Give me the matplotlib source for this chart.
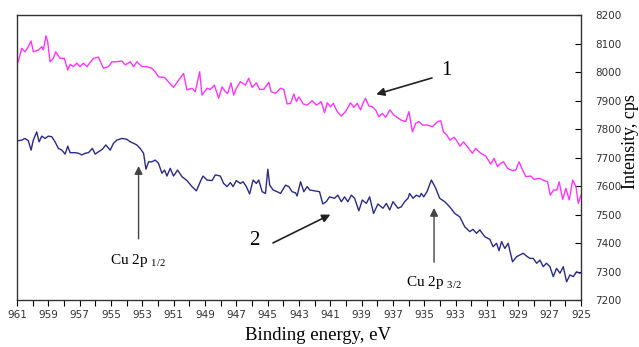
import numpy as np
import matplotlib.pyplot as plt

plt.rcParams['mathtext.fontset'] = 'custom'
plt.rcParams['mathtext.rm'] = 'Liberation Serif'

# curve 1 (magenta)
energy_1 = [
    960.92, 960.70, 960.49, 960.28, 960.10, 959.96, 959.64, 959.42, 959.32, 959.15,
    959.04, 958.89, 958.68, 958.53, 958.25, 957.98, 957.76, 957.61, 957.40, 957.18,
    956.97, 956.76, 956.54, 956.12, 955.80, 955.48, 955.16, 954.94, 954.63, 954.31,
    954.09, 953.77, 953.56, 953.35, 953.03, 952.71, 952.39, 952.18, 951.97, 951.58,
    951.01, 950.37, 950.15, 949.83, 949.62, 949.34, 949.19, 948.87, 948.66, 948.40,
    948.13, 947.91, 947.70, 947.55, 947.34, 947.17, 947.00, 946.74, 946.42, 946.21,
    945.99, 945.72, 945.51, 945.25, 944.93, 944.78, 944.50, 944.18, 943.97, 943.76,
    943.54, 943.33, 943.16, 943.01, 942.73, 942.48, 942.16, 941.88, 941.58, 941.37,
    941.20, 940.99, 940.81, 940.56, 940.30, 940.03, 939.71, 939.50, 939.28, 939.07,
    938.90, 938.75, 938.54, 938.32, 938.11, 937.90, 937.68, 937.47, 937.20, 936.94,
    936.51, 936.19, 935.98, 935.76, 935.55, 935.34, 935.12, 934.80, 934.48, 934.16,
    933.95, 933.78, 933.57, 933.36, 933.10, 932.93, 932.72, 932.50, 932.25, 931.93,
    931.72, 931.40, 931.08, 930.76, 930.55, 930.33, 930.12, 929.94, 929.69, 929.37,
    929.16, 928.95, 928.73, 928.52, 928.20, 927.99, 927.67, 927.35, 927.13, 926.96,
    926.75, 926.54, 926.39, 926.17, 925.96, 925.75, 925.53, 925.32, 925.17, 925.00]
intensity_1 = [
    8036, 8083, 8071, 8089, 8109, 8071, 8077, 8089, 8077, 8127,
    8106, 8036, 8048, 8071, 8048, 8048, 8007, 8027, 8019, 8031,
    8019, 8031, 8019, 8048, 8052, 8013, 8019, 8036, 8036, 8039,
    8025, 8036, 8019, 8036, 8019, 8019, 8013, 8001, 7983, 7981,
    7946, 7995, 7937, 7943, 7931, 8001, 7919, 7943, 7939, 7954,
    7908, 7948, 7931, 7925, 7962, 7919, 7943, 7966, 7954, 7978,
    7946, 7962, 7939, 7939, 7964, 7931, 7925, 7943, 7939, 7888,
    7890, 7923, 7896, 7913, 7888, 7884, 7899, 7884, 7896, 7857,
    7892, 7878, 7890, 7861, 7846, 7861, 7892, 7876, 7890, 7867,
    7892, 7908, 7881, 7878, 7867, 7843, 7855, 7841, 7867, 7849,
    7832, 7826, 7861, 7790, 7820, 7826, 7814, 7814, 7808, 7826,
    7829, 7790, 7779, 7761, 7771, 7759, 7740, 7755, 7738, 7715,
    7732, 7715, 7705, 7677, 7697, 7668, 7680, 7685, 7662, 7654,
    7656, 7685, 7656, 7633, 7635, 7623, 7627, 7619, 7615, 7568,
    7586, 7586, 7615, 7553, 7592, 7551, 7621, 7598, 7539, 7568]

# curve 2 (navy)
energy_2 = [
    960.92, 960.70, 960.49, 960.28, 960.10, 959.96, 959.74, 959.59, 959.42, 959.21,
    959.00, 958.78, 958.57, 958.36, 958.14, 957.93, 957.76, 957.61, 957.29, 957.08,
    956.86, 956.65, 956.44, 956.19, 956.01, 955.80, 955.55, 955.33, 955.05, 954.84,
    954.63, 954.31, 953.99, 953.77, 953.56, 953.35, 953.14, 952.92, 952.77, 952.60,
    952.39, 952.18, 951.97, 951.75, 951.58, 951.43, 951.22, 951.01, 950.75, 950.47,
    950.15, 949.83, 949.55, 949.30, 949.13, 948.87, 948.55, 948.34, 948.02, 947.81,
    947.59, 947.38, 947.21, 947.00, 946.74, 946.57, 946.36, 946.15, 945.93, 945.72,
    945.57, 945.35, 945.14, 944.99, 944.87, 944.65, 944.39, 944.18, 943.86, 943.65,
    943.44, 943.22, 943.12, 942.90, 942.69, 942.48, 942.31, 941.69, 941.48, 941.26,
    941.05, 940.73, 940.52, 940.30, 940.09, 939.88, 939.66, 939.45, 939.18, 938.96,
    938.70, 938.49, 938.24, 937.96, 937.64, 937.42, 937.21, 937.00, 936.68, 936.47,
    936.26, 936.04, 935.94, 935.72, 935.51, 935.30, 935.19, 935.04, 934.83, 934.55,
    934.27, 934.02, 933.70, 933.38, 933.06, 932.74, 932.42, 932.10, 931.89, 931.67,
    931.46, 931.14, 930.82, 930.61, 930.39, 930.23, 930.07, 929.86, 929.65, 929.37,
    929.11, 928.90, 928.69, 928.47, 928.26, 928.05, 927.83, 927.62, 927.41, 927.20,
    926.98, 926.77, 926.56, 926.34, 926.13, 925.92, 925.70, 925.49, 925.28, 925.07]
intensity_2 = [
    7759, 7761, 7767, 7759, 7726, 7761, 7790, 7755, 7775, 7767,
    7775, 7773, 7755, 7732, 7726, 7712, 7740, 7717, 7717, 7715,
    7709, 7715, 7717, 7732, 7712, 7720, 7729, 7744, 7726, 7750,
    7761, 7767, 7764, 7755, 7750, 7744, 7732, 7715, 7659, 7685,
    7685, 7691, 7680, 7645, 7656, 7635, 7662, 7635, 7656, 7633,
    7619, 7598, 7583, 7615, 7635, 7621, 7619, 7639, 7635, 7609,
    7598, 7612, 7598, 7619, 7609, 7615, 7598, 7572, 7621, 7609,
    7621, 7580, 7574, 7659, 7603, 7586, 7580, 7574, 7603, 7598,
    7580, 7576, 7565, 7615, 7580, 7598, 7586, 7580, 7537, 7545,
    7562, 7557, 7568, 7545, 7562, 7545, 7568, 7557, 7513, 7551,
    7539, 7562, 7504, 7537, 7522, 7539, 7516, 7545, 7522, 7527,
    7545, 7557, 7574, 7557, 7568, 7562, 7574, 7562, 7580, 7621,
    7592, 7557, 7545, 7527, 7504, 7492, 7457, 7440, 7448, 7434,
    7446, 7422, 7413, 7387, 7399, 7373, 7405, 7381, 7399, 7334,
    7352, 7358, 7364, 7354, 7346, 7346, 7329, 7340, 7317, 7329,
    7317, 7282, 7311, 7294, 7317, 7264, 7288, 7282, 7299, 7294]

x_ticks = list(range(961, 924, -2))
y_ticks = list(range(7200, 8201, 100))

fig = plt.figure(figsize=(6.39, 3.47), dpi=100)
ax = fig.add_axes([0.0266, 0.1354, 0.8826, 0.8213])

ax.plot(energy_1, intensity_1, color='#ff33ff', lw=1.0)
ax.plot(energy_2, intensity_2, color='#2a2a8a', lw=1.0)

ax.set_xlim(961, 925)
ax.set_ylim(7200, 8200)

ax.set_xticks(x_ticks)
ax.set_xticks(range(960, 925, -2), minor=True)
ax.set_yticks(y_ticks)
ax.yaxis.tick_right()
ax.yaxis.set_label_position('right')
ax.tick_params(axis='x', which='both', direction='out', length=4, width=0.8,
               labelsize=7.5, labelcolor='#333333', pad=3)
ax.tick_params(axis='y', direction='in', length=4, width=0.8,
               labelsize=7.5, labelcolor='#333333', pad=10)
for sp in ax.spines.values():
    sp.set_linewidth(1.0)
    sp.set_color('#333333')

ax.set_xlabel('Binding energy, eV', family='Liberation Serif', fontsize=13.5)
ax.xaxis.set_label_coords(0.534, -0.095)
ax.set_ylabel('Intensity, cps', family='Liberation Serif', fontsize=13,
              ha='center', va='center')
ax.yaxis.set_label_coords(1.087, 0.555)

# annotations
arrow_dark = dict(arrowstyle='-|>', color='#222222', lw=1.2, mutation_scale=12)
ax.annotate('', xy=(938.24, 7919), xytext=(934.34, 7982), arrowprops=arrow_dark)
ax.text(933.9, 8007, '1', family='Liberation Serif', fontsize=15, ha='left', va='center')
ax.annotate('', xy=(940.84, 7504), xytext=(944.82, 7396), arrowprops=arrow_dark)
ax.text(945.5, 7410, '2', family='Liberation Serif', fontsize=15, ha='right', va='center')

arrow_grey = dict(arrowstyle='-|>', color='#444444', lw=1.0, mutation_scale=12)
ax.annotate('', xy=(953.24, 7680), xytext=(953.24, 7405), arrowprops=arrow_grey)
ax.text(953.3, 7340, r'Cu 2p $_{\mathrm{1/2}}$', family='Liberation Serif',
        fontsize=11, ha='center', va='center')
ax.annotate('', xy=(934.38, 7533), xytext=(934.38, 7323), arrowprops=arrow_grey)
ax.text(934.4, 7262, r'Cu 2p $_{\mathrm{3/2}}$', family='Liberation Serif',
        fontsize=11, ha='center', va='center')

fig.savefig('out.png', dpi=100)
